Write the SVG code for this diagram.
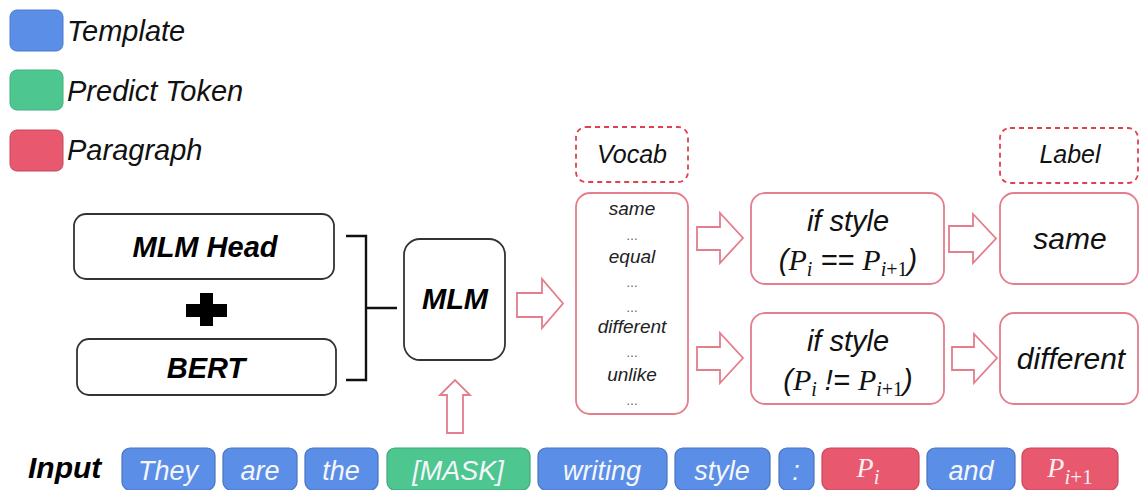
<svg xmlns="http://www.w3.org/2000/svg" width="1139" height="490" viewBox="0 0 1139 490">
<style>
.lg{font-family:"Liberation Sans",Arial,sans-serif;font-style:italic;font-size:29px;fill:#111}
.bk{fill:#fff;stroke:#333;stroke-width:1.8}
.pk{fill:#fff;stroke:#e47d8c;stroke-width:1.8}
.dash{fill:#fff;stroke:#e0404f;stroke-width:1.8;stroke-dasharray:5 4}
.bt{font-family:"Liberation Sans",Arial,sans-serif;font-style:italic;font-weight:bold;font-size:29px;fill:#000;text-anchor:middle}
.it{font-family:"Liberation Sans",Arial,sans-serif;font-style:italic;font-size:25px;fill:#111;text-anchor:middle}
.it2{font-family:"Liberation Sans",Arial,sans-serif;font-style:italic;font-size:29px;fill:#111;text-anchor:middle}
.lab{font-family:"Liberation Sans",Arial,sans-serif;font-style:italic;font-size:30px;fill:#111;text-anchor:middle}
.voc{font-family:"Liberation Sans",Arial,sans-serif;font-style:italic;font-size:19px;fill:#222;text-anchor:middle}
.dots{font-family:"Liberation Sans",Arial,sans-serif;font-size:12px;fill:#555;text-anchor:middle}
.math{font-family:"Liberation Serif","Times New Roman",serif;font-style:italic}
.arr{fill:#fff;stroke:#e47d8c;stroke-width:1.8}
.tb{fill:#5b8ee6;stroke:#4a74c0;stroke-width:1.2}
.tg{fill:#4ec690;stroke:#3ea877;stroke-width:1.2}
.tr{fill:#e8596f;stroke:#c8485c;stroke-width:1.2}
.tt{font-family:"Liberation Sans",Arial,sans-serif;font-style:italic;font-size:27px;fill:#f4f6fb;text-anchor:middle}
.tm{font-family:"Liberation Serif","Times New Roman",serif;font-style:italic;font-size:28px;fill:#fbeef0;text-anchor:middle}
</style>
<rect width="1139" height="490" fill="#fff"/>
<g id="legend">
<rect x="10" y="10" width="53" height="41" rx="7" fill="#5b8ee6" stroke="#4a7ad0"/>
<text class="lg" x="67" y="41">Template</text>
<rect x="10" y="70" width="53" height="40" rx="7" fill="#4ec690" stroke="#40b07e"/>
<text class="lg" x="67" y="101">Predict Token</text>
<rect x="10" y="130" width="53" height="41" rx="7" fill="#e8596f" stroke="#c0485a"/>
<text class="lg" x="67" y="160">Paragraph</text>
</g>
<g id="mlm-head">
<rect class="bk" x="74" y="214" width="260" height="65" rx="12"/>
<text class="bt" x="205" y="257">MLM Head</text>
</g>
<g id="plus">
<rect x="200" y="293" width="13" height="33" fill="#000"/>
<rect x="186" y="304" width="41" height="13" fill="#000"/>
</g>
<g id="bert">
<rect class="bk" x="77" y="339" width="259" height="56" rx="12"/>
<text class="bt" x="206" y="378">BERT</text>
</g>
<g id="mlm">
<rect class="bk" x="404" y="239" width="101" height="121" rx="16"/>
<text class="bt" x="455" y="309">MLM</text>
</g>
<g id="vocab-label">
<rect class="dash" x="576" y="127" width="112" height="55" rx="10"/>
<text class="it" x="632" y="163">Vocab</text>
</g>
<g id="vocab">
<rect class="pk" x="576" y="193" width="112" height="221" rx="14"/>
<text class="voc" x="632" y="215">same</text>
<text class="dots" x="632" y="240">…</text>
<text class="voc" x="632" y="263">equal</text>
<text class="dots" x="632" y="287">…</text>
<text class="dots" x="632" y="312">…</text>
<text class="voc" x="632" y="333">different</text>
<text class="dots" x="632" y="357">…</text>
<text class="voc" x="632" y="381">unlike</text>
<text class="dots" x="632" y="405">…</text>
</g>
<g id="if-same">
<rect class="pk" x="751" y="193" width="193" height="91" rx="14"/>
<text class="it2" x="848" y="231">if style</text>
<text class="it2" x="848" y="270">(<tspan class="math" font-size="30">P</tspan><tspan class="math" font-size="20" dy="6">i</tspan><tspan dy="-6"> == </tspan><tspan class="math" font-size="30">P</tspan><tspan class="math" font-size="20" dy="6">i</tspan><tspan font-family="Liberation Serif" font-style="normal" font-size="20">+1</tspan><tspan dy="-6">)</tspan></text>
</g>
<g id="if-diff">
<rect class="pk" x="751" y="313" width="193" height="91" rx="14"/>
<text class="it2" x="848" y="351">if style</text>
<text class="it2" x="848" y="390">(<tspan class="math" font-size="30">P</tspan><tspan class="math" font-size="20" dy="6">i</tspan><tspan dy="-6"> != </tspan><tspan class="math" font-size="30">P</tspan><tspan class="math" font-size="20" dy="6">i</tspan><tspan font-family="Liberation Serif" font-style="normal" font-size="20">+1</tspan><tspan dy="-6">)</tspan></text>
</g>
<g id="label-title">
<rect class="dash" x="1000" y="128" width="138" height="55" rx="10"/>
<text class="it" x="1070" y="163">Label</text>
</g>
<g id="label-same">
<rect class="pk" x="1000" y="193" width="138" height="91" rx="14"/>
<text class="lab" x="1070" y="249">same</text>
</g>
<g id="label-diff">
<rect class="pk" x="1000" y="313" width="138" height="91" rx="14"/>
<text class="lab" x="1071" y="369">different</text>
</g>
<g id="connectors">
<path d="M346,236 H366 V380 H346 M366,308 H397" fill="none" stroke="#111" stroke-width="2.4"/>
<polygon class="arr" points="517,293 542,293 542,279 563,303.5 542,328 542,317 517,317"/>
<polygon class="arr" points="697,227 720,227 720,213 743,238 720,263 720,250 697,250"/>
<polygon class="arr" points="697,347 720,347 720,333 743,358 720,383 720,370 697,370"/>
<polygon class="arr" points="949,226 973,226 973,214 996,238.5 973,263 973,252 949,252"/>
<polygon class="arr" points="952,347 974,347 974,334 997,358 974,383 974,370 952,370"/>
<polygon class="arr" points="447,433 447,395 440,395 455,380 470,395 463,395 463,433"/>
</g>
<g id="input">
<text x="28" y="478" font-family="Liberation Sans,Arial,sans-serif" font-style="italic" font-weight="bold" font-size="30" fill="#000">Input</text>
<rect class="tb" x="122" y="448" width="93" height="42" rx="8"/><text class="tt" x="168" y="480">They</text>
<rect class="tb" x="223" y="448" width="74" height="42" rx="8"/><text class="tt" x="260" y="480">are</text>
<rect class="tb" x="305" y="448" width="73" height="42" rx="8"/><text class="tt" x="341" y="480">the</text>
<rect class="tg" x="387" y="448" width="143" height="42" rx="8"/><text class="tt" x="458" y="480">[MASK]</text>
<rect class="tb" x="538" y="448" width="129" height="42" rx="8"/><text class="tt" x="602" y="480">writing</text>
<rect class="tb" x="675" y="448" width="95" height="42" rx="8"/><text class="tt" x="722" y="480">style</text>
<rect class="tb" x="779" y="448" width="35" height="42" rx="8"/><text class="tt" x="796" y="480">:</text>
<rect class="tr" x="822" y="448" width="97" height="42" rx="8"/><text class="tm" x="868" y="477">P<tspan font-size="21" dy="7">i</tspan></text>
<rect class="tb" x="927" y="448" width="88" height="42" rx="8"/><text class="tt" x="971" y="480">and</text>
<rect class="tr" x="1022" y="448" width="96" height="42" rx="8"/><text class="tm" x="1070" y="477">P<tspan font-size="21" dy="7">i<tspan font-style="normal">+1</tspan></tspan></text>
</g>
</svg>
